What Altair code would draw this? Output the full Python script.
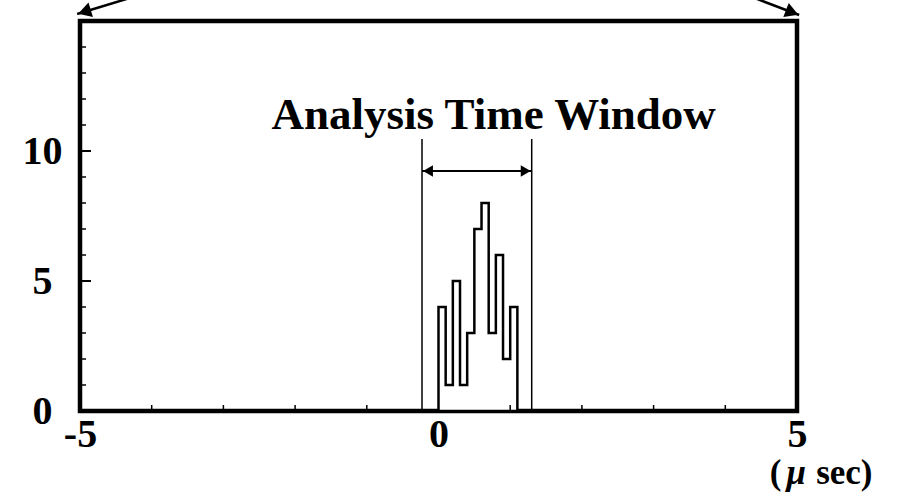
import altair as alt
import pandas as pd

# Timing histogram: bin edges (µs) and counts per bin
bin_edges = [0.0, 0.1, 0.2, 0.3, 0.4, 0.5, 0.6, 0.7, 0.8, 0.9, 1.0, 1.1]
counts = [4, 1, 5, 1, 3, 7, 8, 3, 6, 2, 4]

# Axes
x_domain = [-5, 5]
y_domain = [0, 15]
x_label_values = [-5, 0, 5]
y_label_values = [0, 5, 10]
x_minor_ticks = [-4, -3, -2, -1, 1, 2, 3, 4]
y_minor_ticks = [1, 2, 3, 4, 6, 7, 8, 9, 11, 12, 13, 14]
y_major_ticks = [5, 10]

# Analysis window annotation
window_edges = [-0.23, 1.30]
window_top = 10.46
window_arrow_y = 9.23
window_title = "Analysis Time Window"
window_title_x = 0.77
window_title_y = 10.85

# Arrows coming down onto the two upper corners of the frame
corner_start_x = [-3.94, 4.12]
corner_start_y = [16.19, 16.19]
corner_tip_x = [-5.04, 5.03]
corner_tip_y = [15.27, 15.23]

# Unit label "( μ sec)", drawn in pieces so the μ can be italic
unit_plain_text = ["(", "sec)"]
unit_plain_x = [4.70, 5.66]
unit_mu_text = ["μ"]
unit_mu_x = [4.99]
unit_y = -2.82

FONT = "Liberation Serif"

xs = alt.Scale(domain=x_domain, nice=False, zero=False)
ys = alt.Scale(domain=y_domain, nice=False, zero=False)
x_axis = alt.Axis(values=x_label_values, ticks=False, domain=False, grid=False,
                  labelFlush=False, labelPadding=3, title=None,
                  labelExpr="datum.value + ''")
y_axis = alt.Axis(values=y_label_values, ticks=False, domain=False, grid=False,
                  labelFlush=False, labelPadding=38, labelAlign="center", title=None)


def X(field):
    return alt.X(f"{field}:Q", scale=xs, axis=x_axis)


def Y(field):
    return alt.Y(f"{field}:Q", scale=ys, axis=y_axis)


# --- histogram outline (step shape, unfilled) ---
hist_df = pd.DataFrame({"t": bin_edges, "n": counts + [counts[-1]]})
hist = alt.Chart(hist_df).mark_area(
    interpolate="step-after", fill="white", stroke="black", strokeWidth=2.5
).encode(x=X("t"), y=Y("n"))

# --- inward ticks ---
ytick_minor = alt.Chart(pd.DataFrame({"v": y_minor_ticks, "x0": x_domain[0]})).mark_rule(
    color="black", strokeWidth=1.5, x2Offset=6
).encode(x=X("x0"), x2="x0:Q", y=Y("v"))
ytick_major = alt.Chart(pd.DataFrame({"v": y_major_ticks, "x0": x_domain[0]})).mark_rule(
    color="black", strokeWidth=2, x2Offset=11
).encode(x=X("x0"), x2="x0:Q", y=Y("v"))
xtick_minor = alt.Chart(pd.DataFrame({"v": x_minor_ticks, "y0": y_domain[0]})).mark_rule(
    color="black", strokeWidth=1.5, y2Offset=-6
).encode(x=X("v"), y=Y("y0"), y2="y0:Q")

# --- analysis window: edges, double arrow, caption ---
win_lines = alt.Chart(pd.DataFrame({"t": window_edges, "lo": 0, "hi": window_top})).mark_rule(
    color="black", strokeWidth=1.5
).encode(x=X("t"), y=Y("lo"), y2="hi:Q")

win_arrow = alt.Chart(pd.DataFrame({"a": [window_edges[0]], "b": [window_edges[1]],
                                    "y": [window_arrow_y]})).mark_rule(
    color="black", strokeWidth=2
).encode(x=X("a"), x2="b:Q", y=Y("y"))

head_l = alt.Chart(pd.DataFrame({"t": [window_edges[0]], "y": [window_arrow_y]})).mark_point(
    shape="triangle-left", filled=True, color="black", opacity=1, size=130,
    strokeWidth=0, xOffset=6
).encode(x=X("t"), y=Y("y"))
head_r = alt.Chart(pd.DataFrame({"t": [window_edges[1]], "y": [window_arrow_y]})).mark_point(
    shape="triangle-right", filled=True, color="black", opacity=1, size=130,
    strokeWidth=0, xOffset=-6
).encode(x=X("t"), y=Y("y"))

caption = alt.Chart(pd.DataFrame({"t": [window_title_x], "y": [window_title_y],
                                  "s": [window_title]})).mark_text(
    font=FONT, fontWeight="bold", fontSize=45, color="black",
    align="center", baseline="alphabetic"
).encode(x=X("t"), y=Y("y"), text="s:N")

# --- corner arrows ---
corner_df = pd.DataFrame({"x1": corner_start_x, "y1": corner_start_y,
                          "x2": corner_tip_x, "y2": corner_tip_y})
corner_lines = alt.Chart(corner_df).mark_rule(color="black", strokeWidth=2.5).encode(
    x=X("x1"), y=Y("y1"), x2="x2:Q", y2="y2:Q")

corner_head_l = alt.Chart(pd.DataFrame({"t": [corner_tip_x[0]], "y": [corner_tip_y[0]]})).mark_point(
    shape="triangle-right", filled=True, color="black", opacity=1, size=230,
    strokeWidth=0, angle=163, xOffset=7.3, yOffset=-2.2
).encode(x=X("t"), y=Y("y"))
corner_head_r = alt.Chart(pd.DataFrame({"t": [corner_tip_x[1]], "y": [corner_tip_y[1]]})).mark_point(
    shape="triangle-right", filled=True, color="black", opacity=1, size=230,
    strokeWidth=0, angle=21, xOffset=-7.0, yOffset=-2.7
).encode(x=X("t"), y=Y("y"))

# --- unit label ---
unit_plain = alt.Chart(pd.DataFrame({"t": unit_plain_x, "y": unit_y,
                                     "s": unit_plain_text})).mark_text(
    font=FONT, fontWeight="bold", fontSize=35, color="black",
    align="center", baseline="alphabetic"
).encode(x=X("t"), y=Y("y"), text="s:N")
unit_mu = alt.Chart(pd.DataFrame({"t": unit_mu_x, "y": unit_y,
                                  "s": unit_mu_text})).mark_text(
    font=FONT, fontWeight="bold", fontStyle="italic", fontSize=35, color="black",
    align="center", baseline="alphabetic"
).encode(x=X("t"), y=Y("y"), text="s:N")

chart = alt.layer(
    hist, win_lines, win_arrow, head_l, head_r, caption,
    ytick_minor, ytick_major, xtick_minor,
    corner_lines, corner_head_l, corner_head_r, unit_plain, unit_mu
).properties(
    width=717, height=390,
    autosize=alt.AutoSizeParams(type="none"),
    padding={"left": 80, "top": 21, "right": 103, "bottom": 82},
    background="white",
).configure_view(
    stroke="black", strokeWidth=4.5
).configure_axis(
    labelFont=FONT, labelFontWeight="bold", labelFontSize=40, labelColor="black"
)

chart.save("out.html", embed_options={"renderer": "svg", "actions": False})
